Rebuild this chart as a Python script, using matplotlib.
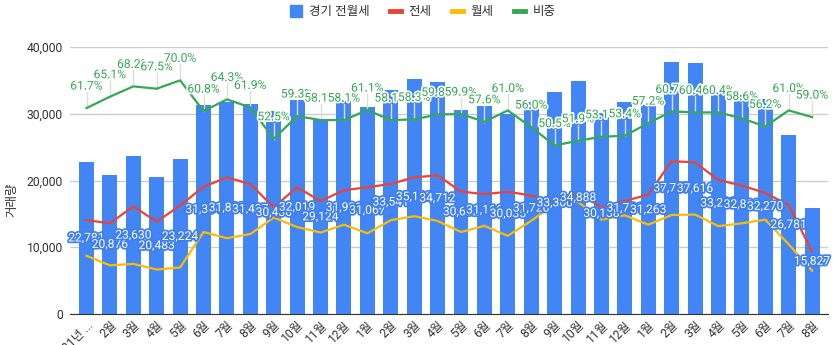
import numpy as np
import matplotlib
matplotlib.use("Agg")
import matplotlib.pyplot as plt
import matplotlib.patheffects as pe
from matplotlib.lines import Line2D

plt.rcParams['font.family'] = ['Roboto', 'Noto Sans CJK KR', 'DejaVu Sans']

categories = ["21년 ...", "2월", "3월", "4월", "5월", "6월", "7월", "8월", "9월", "10월", "11월", "12월",
              "1월", "2월", "3월", "4월", "5월", "6월", "7월", "8월", "9월", "10월", "11월", "12월",
              "1월", "2월", "3월", "4월", "5월", "6월", "7월", "8월"]
total = [22781, 20876, 23630, 20483, 23224, 31334, 31835, 31437, 30436, 32019, 29124, 31931,
         31067, 33541, 35132, 34712, 30632, 31166, 30035, 31726, 33300, 34888, 30138, 31731,
         31263, 37737, 37616, 33232, 32832, 32270, 26781, 15827]
jeonse = [14060, 13590, 16120, 13830, 16260, 19050, 20470, 19460, 15980, 18990, 16920, 18550,
          18980, 19490, 20480, 20760, 18350, 17950, 18320, 17760, 16820, 18110, 16000, 16940,
          17880, 22900, 22720, 20070, 19240, 18140, 16340, 9340]
wolse = [8720, 7290, 7510, 6660, 6970, 12280, 11360, 11980, 14450, 13030, 12200, 13380,
         12090, 14050, 14650, 13950, 12280, 13210, 11710, 13960, 16480, 16780, 14130, 14790,
         13380, 14830, 14900, 13160, 13590, 14130, 10440, 6490]
share = [61.7, 65.1, 68.2, 67.5, 70.0, 60.8, 64.3, 61.9, 52.5, 59.3, 58.1, 58.1,
         61.1, 58.1, 58.3, 59.8, 59.9, 57.6, 61.0, 56.0, 50.5, 51.9, 53.1, 53.4,
         57.2, 60.7, 60.4, 60.4, 58.6, 56.2, 61.0, 59.0]
yticks = [0, 10000, 20000, 30000, 40000]

BLUE, RED, YEL, GRN = '#4285F4', '#EA4335', '#FBBC04', '#34A853'
W, H = 834, 345
fig = plt.figure(figsize=(W / 100, H / 100), dpi=100)
ax = fig.add_axes([70 / W, 31 / H, 758 / W, 267 / H])
x = np.arange(len(categories))

ax.bar(x, total, width=0.64, color=BLUE, zorder=2)
ax.plot(x, jeonse, color=RED, lw=1.6, zorder=4)
ax.plot(x, wolse, color=YEL, lw=1.6, zorder=4)
for xi, v in zip(x, total):
    ax.text(xi, v / 2, f"{v:,}", ha='center', va='center', color='white', fontsize=8.7, zorder=5,
            path_effects=[pe.withStroke(linewidth=2.5, foreground='#3f7ff0')])

ax.set_xlim(-0.705, 31.68)
ax.set_ylim(0, 40000)
ax.set_yticks(yticks)
ax.set_yticklabels([f"{t:,}" for t in yticks], fontsize=8.7, color='#333333')
ax.set_xticks(x)
ax.set_xticklabels(categories, rotation=45, ha='right', va='top', rotation_mode='anchor',
                   fontsize=8.7, color='#333333')
ax.tick_params(axis='both', length=0, pad=5)
ax.tick_params(axis='x', pad=3)
ax.grid(axis='y', color='#cccccc', lw=1, zorder=0)
ax.set_axisbelow(True)
for s in ['top', 'right', 'left']:
    ax.spines[s].set_visible(False)
ax.spines['bottom'].set_color('#333333')
ax.spines['bottom'].set_zorder(6)

ax2 = ax.twinx()
ax2.set_ylim(0, 80)
ax2.set_xlim(ax.get_xlim())
ax2.axis('off')
ax2.plot(x, share, color=GRN, lw=1.6, zorder=4)
px_per_pct = 267 / 80
for xi, v in zip(x, share):
    off = 22 / px_per_pct
    ax2.plot([xi, xi], [v, v + 16 / px_per_pct], color='#dddddd', lw=1, zorder=1)
    ax2.text(xi, v + off, f"{v:.1f}%", ha='center', va='center', color=GRN, fontsize=8.7, zorder=6,
             path_effects=[pe.withStroke(linewidth=2.5, foreground='white')])

fig.text(12 / W, 1 - 200 / H, "거래량", rotation=90, ha='center', va='center', fontsize=9, color='#333333')

handles = [Line2D([], [], marker='s', ls='none', color=BLUE, markersize=9),
           Line2D([], [], color=RED, lw=3.5),
           Line2D([], [], color=YEL, lw=3.5),
           Line2D([], [], color=GRN, lw=3.5)]
fig.legend(handles, ["경기 전월세", "전세", "월세", "비중"], loc='center', bbox_to_anchor=(423 / W, 1 - 12 / H),
           ncol=4, frameon=False, fontsize=9, handlelength=0.9, handletextpad=0.6, columnspacing=1.6,
           labelcolor='#333333')

fig.savefig("out.png", dpi=100)
